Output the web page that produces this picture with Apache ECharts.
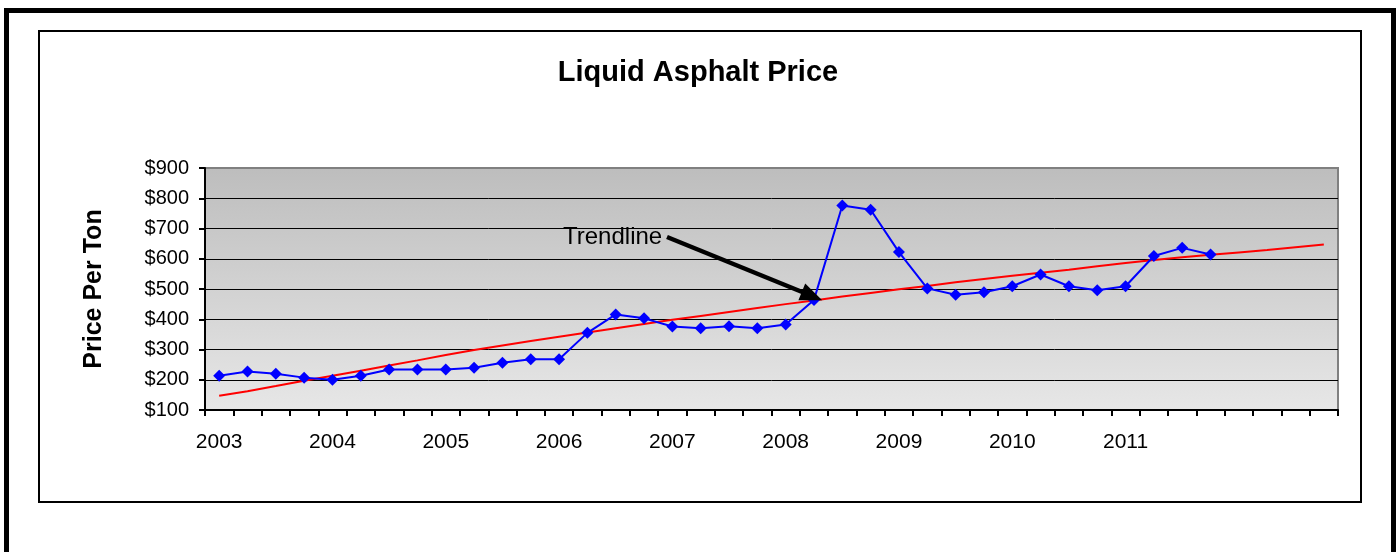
<!DOCTYPE html>
<html>
<head>
<meta charset="utf-8">
<script src="https://cdn.jsdelivr.net/npm/echarts@6/dist/echarts.min.js"></script>
<style>
  html, body { margin: 0; padding: 0; background: #fff; }
  #chart { width: 1396px; height: 552px; }
</style>
</head>
<body>
<div id="chart"></div>
<script>
// quarters 2003 Q1 .. 2012 Q4
var years = ['2003', '2004', '2005', '2006', '2007', '2008', '2009', '2010', '2011', '2012'];
var quarters = [];
years.forEach(function (y) {
  ['Q1', 'Q2', 'Q3', 'Q4'].forEach(function (q) { quarters.push(y + ' ' + q); });
});
// years that get a label on the axis
var yearLabels = ['2003', '2004', '2005', '2006', '2007', '2008', '2009', '2010', '2011'];

// price per ton, 2003 Q1 .. 2011 Q4
var price = [213, 227, 220, 207, 200, 213, 234, 234, 234, 240, 256, 268,
  268, 355, 416, 403, 376, 370, 377, 370, 383, 464, 776, 762,
  622, 502, 481, 489, 509, 548, 509, 496, 509, 609, 636, 614];

// trendline, 2003 Q1 .. 2012 Q4
var trend = [147, 162, 179, 197, 213, 230, 247, 264, 282, 298,
  313, 328, 342, 356, 370, 384, 398, 411, 424, 437,
  450, 462, 475, 487, 499, 510, 522, 533, 544, 554,
  564, 575, 586, 596, 605, 613, 621, 629, 638, 647];

var chart = echarts.init(document.getElementById('chart'));

var font = '"Liberation Sans", Arial, sans-serif';

chart.setOption({
  animation: false,
  backgroundColor: '#fff',
  textStyle: { fontFamily: font },
  title: {
    text: 'Liquid Asphalt Price',
    left: 'center',
    top: 58,
    padding: 0,
    textStyle: { fontSize: 29, fontWeight: 'bold', color: '#000', fontFamily: font }
  },
  grid: {
    left: 205,
    top: 168,
    right: 58,
    bottom: 142,
    show: true,
    borderColor: '#808080',
    borderWidth: 2,
    backgroundColor: new echarts.graphic.LinearGradient(0, 0, 0, 1, [
      { offset: 0, color: '#bdbdbd' },
      { offset: 1, color: '#e7e7e7' }
    ])
  },
  xAxis: {
    type: 'category',
    data: quarters,
    boundaryGap: true,
    axisLine: { lineStyle: { color: '#000', width: 2 } },
    axisTick: { show: true, interval: 0, length: 6, lineStyle: { color: '#000', width: 2 } },
    axisLabel: {
      interval: 0,
      margin: 22,
      fontSize: 21,
      color: '#000',
      fontFamily: font,
      formatter: function (v) {
        var parts = v.split(' ');
        return (parts[1] === 'Q1' && yearLabels.indexOf(parts[0]) >= 0) ? parts[0] : '';
      }
    },
    splitLine: { show: false }
  },
  yAxis: {
    type: 'value',
    min: 100,
    max: 900,
    interval: 100,
    name: 'Price Per Ton',
    nameLocation: 'middle',
    nameGap: 98,
    nameRotate: 90,
    nameTextStyle: { fontSize: 25, fontWeight: 'bold', color: '#000', fontFamily: font },
    axisLine: { show: true, lineStyle: { color: '#000', width: 2 } },
    axisTick: { show: true, length: 6, lineStyle: { color: '#000', width: 2 } },
    axisLabel: {
      margin: 16,
      fontSize: 20,
      color: '#000',
      fontFamily: font,
      formatter: function (v) { return '$' + v; }
    },
    splitLine: { show: true, showMinLine: false, showMaxLine: false, lineStyle: { color: '#000', width: 1 } }
  },
  series: [
    {
      name: 'Trend',
      type: 'line',
      data: trend,
      symbol: 'none',
      lineStyle: { color: '#ff0000', width: 2 },
      z: 2,
      markLine: {
        silent: true,
        symbol: ['none', 'triangle'],
        symbolSize: [18, 22],
        label: { show: false },
        lineStyle: { color: '#000', width: 4.5, type: 'solid' },
        itemStyle: { color: '#000' },
        data: [[{ x: 667, y: 237 }, { x: 812, y: 296 }]]
      }
    },
    {
      name: 'Price',
      type: 'line',
      data: price,
      symbol: 'diamond',
      symbolSize: 12,
      showAllSymbol: true,
      lineStyle: { color: '#0000ff', width: 2 },
      itemStyle: { color: '#0000ff' },
      z: 3
    }
  ],
  graphic: [
    {
      type: 'rect',
      silent: true,
      shape: { x: 6.5, y: 10.5, width: 1387, height: 620 },
      style: { fill: 'none', stroke: '#000', lineWidth: 5 }
    },
    {
      type: 'rect',
      silent: true,
      shape: { x: 39, y: 31, width: 1322, height: 471 },
      style: { fill: 'none', stroke: '#000', lineWidth: 2 }
    },
    {
      type: 'text',
      silent: true,
      left: 563,
      top: 225,
      z: 10,
      style: { text: 'Trendline', fontSize: 24, fontFamily: font, fill: '#000' }
    }
  ]
});
</script>
</body>
</html>
